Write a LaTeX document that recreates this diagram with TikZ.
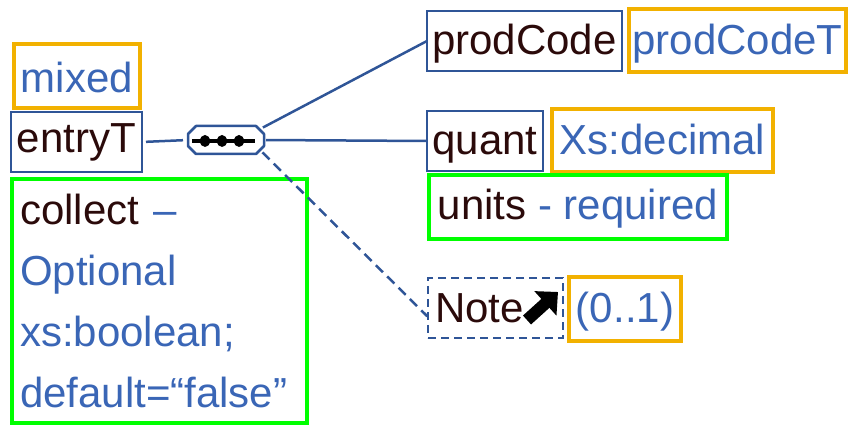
\documentclass[tikz,border=0pt]{standalone}
\usepackage{fontspec}
\setmainfont{Liberation Sans}
\usetikzlibrary{arrows.meta}
\definecolor{txtblue}{HTML}{3A66B6}
\definecolor{bdblue}{HTML}{2F5597}
\definecolor{txtbrown}{HTML}{2B0A0A}
\definecolor{orng}{HTML}{F2B100}
\definecolor{grn}{HTML}{00FF00}
\begin{document}
\begin{tikzpicture}[x=1pt,y=-1pt,
  every node/.style={font=\fontsize{42}{61}\selectfont, inner sep=0pt, outer sep=0pt},
  obox/.style={draw=orng, line width=4.5pt, text=txtblue, anchor=base},
  bbox/.style={draw=bdblue, line width=2.5pt, text=txtbrown, anchor=base},
  gbox/.style={draw=grn, line width=4.5pt, text=txtblue},
  conn/.style={draw=bdblue, line width=2.5pt},
  dashpat/.style={dash pattern=on 10pt off 6pt},
]
\useasboundingbox (0,0) rectangle (849,427);
% left column
\node[obox, minimum width=126pt, text height=49pt, text depth=15pt] (mixed) at (77,93) {mixed};
\node[bbox, minimum width=131pt, text height=41pt, text depth=19pt] (entryT) at (76.5,153) {entryT};
\node[gbox, anchor=north west, inner xsep=8pt, text width=279pt, align=left, text height=46pt, text depth=198pt] (collect) at (12,179)
  {{\color{txtbrown}collect} –\\Optional\\xs:boolean;\\default=“false”};
% sequence compositor
\node[minimum width=76pt, minimum height=28pt] (seq) at (226,140) {};
\draw[conn, line join=round]
  ([xshift=8pt]seq.north west) -- ([xshift=-8pt]seq.north east) -- ([yshift=-8pt]seq.north east)
  -- ([yshift=8pt]seq.south east) -- ([xshift=-8pt]seq.south east) -- ([xshift=8pt]seq.south west)
  -- ([yshift=8pt]seq.south west) -- ([yshift=-8pt]seq.north west) -- cycle;
\draw[line width=4.5pt] ([xshift=-34pt,yshift=-1pt]seq.center) -- ([xshift=29pt,yshift=-1pt]seq.center);
\foreach \dx in {-21,-4,13} \fill ([xshift=\dx pt,yshift=-1pt]seq.center) ellipse [x radius=5pt, y radius=6pt];
% right column
\node[bbox, minimum width=195pt, text height=44pt, text depth=16pt] (prodCode) at (524.5,55) {prodCode};
\node[obox, minimum width=217pt, text height=46pt, text depth=17pt] (prodCodeT) at (737.5,55) {prodCodeT};
\node[bbox, minimum width=116pt, text height=44pt, text depth=16pt] (quant) at (485,155) {quant};
\node[obox, minimum width=221pt, text height=46pt, text depth=17pt] (decimal) at (662.5,155) {Xs:decimal};
\node[gbox, anchor=base, minimum width=298pt, text height=45pt, text depth=19pt] (units) at (578,220) {{\color{txtbrown}units} - required};
\node[draw=bdblue, line width=2.5pt, dash pattern=on 8pt off 5pt, text=txtbrown, anchor=north west, inner xsep=7pt, text width=121pt, align=left, text height=45pt, text depth=15pt] (note) at (428,278) {Note};
\node[obox, minimum width=112pt, text height=46pt, text depth=18pt] (card) at (625,323) {(0..1)};
% note arrow icon
\draw[line width=12pt, -{Triangle[width=32pt,length=17pt]}] (527,320) -- (558,292);
% connectors
\draw[conn, shorten <=4pt, shorten >=5pt] (entryT.east) -- (seq.west);
\draw[conn, shorten <=1pt] ([xshift=-2pt,yshift=-2pt]seq.north east) -- (prodCode.west);
\draw[conn, shorten <=2pt] (seq.east) -- (quant.west);
\draw[conn, dashpat, shorten <=2pt, shorten >=1pt] ([xshift=-3pt,yshift=3pt]seq.south east) -- ([yshift=-9pt]note.west);
\end{tikzpicture}
\end{document}
